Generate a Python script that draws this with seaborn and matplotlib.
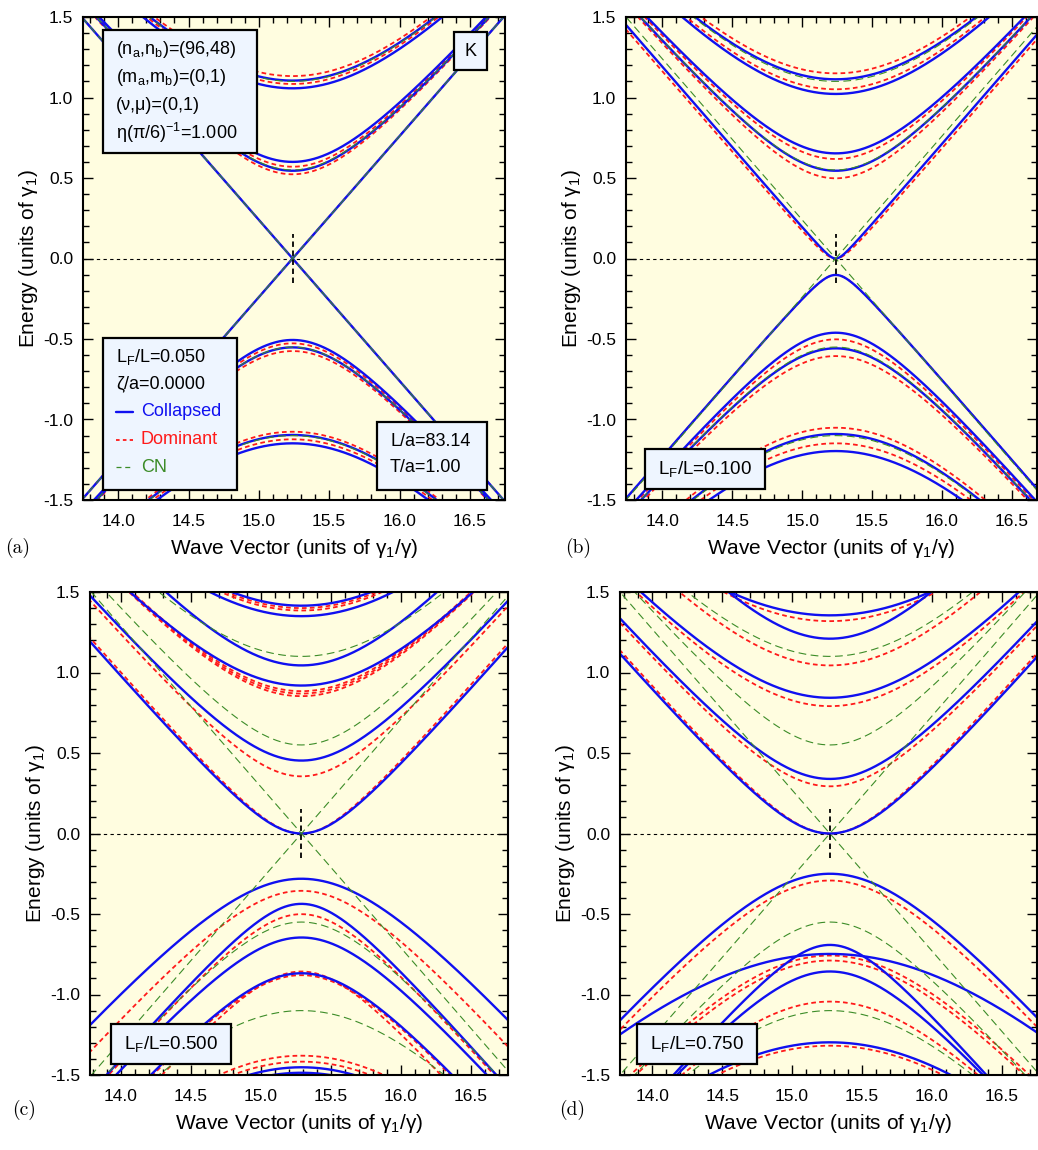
import numpy as np
import pandas as pd
import matplotlib
matplotlib.use("Agg")
import matplotlib.pyplot as plt
import seaborn as sns
from matplotlib.ticker import MultipleLocator, FormatStrFormatter
from matplotlib.patches import Rectangle
from matplotlib.lines import Line2D

sns.set_theme(style="ticks")
plt.rcParams["font.family"] = ["Liberation Sans", "DejaVu Sans"]
plt.rcParams["mathtext.fontset"] = "custom"
plt.rcParams["mathtext.rm"] = "Liberation Sans"
plt.rcParams["mathtext.it"] = "Liberation Sans:italic"
plt.rcParams["axes.unicode_minus"] = False
for key in ["text.color", "axes.labelcolor", "xtick.color", "ytick.color",
            "axes.edgecolor"]:
    plt.rcParams[key] = "black"

# ---------------------------------------------------------------------------
# Band structure near the K valley.  Each band is described by its energy at
# the valley centre (units of gamma_1) and a hyperbolic curvature scale; a
# negative sign (including -0.0) marks a valence band.
# ---------------------------------------------------------------------------
K0 = [15.24, 15.24, 15.29, 15.27]
LF_RATIO = ["0.050", "0.100", "0.500", "0.750"]
PANEL_TAGS = ["(a)", "(b)", "(c)", "(d)"]

# (a) L_F/L = 0.050
BLUE_A_EDGE = [0.0, 0.545, 0.600, 1.057, 1.105, -0.0, -0.506, -0.552, -1.096, -1.148]
BLUE_A_MASS = [0.0, 0.545, 0.600, 1.057, 1.105, 0.0, 0.506, 0.552, 1.096, 1.148]
RED_A_EDGE = [0.0, 0.523, 0.570, 1.084, 1.133, -0.0, -0.527, -0.575, -1.076, -1.123]
RED_A_MASS = [0.0, 0.523, 0.570, 1.084, 1.133, 0.0, 0.527, 0.575, 1.076, 1.123]

# (b) L_F/L = 0.100
BLUE_B_EDGE = [0.0, 0.545, 0.653, 1.022, 1.113, -0.102, -0.461, -0.558, -1.090, -1.196]
BLUE_B_MASS = [0.05, 0.545, 0.653, 1.022, 1.113, 0.116, 0.461, 0.558, 1.090, 1.196]
RED_B_EDGE = [0.0, 0.498, 0.618, 1.051, 1.150, -0.102, -0.502, -0.606, -1.051, -1.148]
RED_B_MASS = [0.08, 0.498, 0.618, 1.051, 1.150, 0.116, 0.502, 0.606, 1.051, 1.148]

# (c) L_F/L = 0.500
BLUE_C_EDGE = [0.0, 0.453, 0.919, 1.044, 1.350, 1.415,
               -0.281, -0.437, -0.646, -0.868, -1.452, -1.486]
BLUE_C_MASS = [0.36, 0.60, 1.00, 0.80, 1.35, 1.415,
               0.80, 0.38, 0.60, 0.60, 1.45, 1.49]
RED_C_EDGE = [0.0, 0.355, 0.853, 0.869, 0.884, 1.385, 1.400,
              -0.356, -0.501, -0.857, -0.880, -1.380, -1.417]
RED_C_MASS = [0.33, 0.50, 0.85, 0.87, 0.88, 1.385, 1.40,
              0.64, 0.45, 0.45, 0.60, 1.38, 1.417]

# (d) L_F/L = 0.750
BLUE_D_EDGE = [0.0, 0.339, 0.843, 1.210, 1.355,
               -0.250, -0.692, -0.748, -0.857, -1.297]
BLUE_D_MASS = [0.45, 0.63, 1.06, 0.76, 1.69,
               0.78, 0.37, 2.00, 0.61, 1.74]
RED_D_EDGE = [0.0, 0.293, 0.791, 1.044, 1.319,
              -0.292, -0.758, -0.789, -1.044, -1.318]
RED_D_MASS = [0.42, 0.60, 1.00, 1.04, 1.50,
              0.75, 1.00, 1.00, 1.00, 1.70]

# CN reference bands (same in every panel)
GREEN_EDGE = [0.0, 0.55, 1.10, -0.0, -0.55, -1.10]
GREEN_MASS = [0.0, 0.55, 1.10, 0.0, 0.55, 1.10]

BLUE_SETS = [(BLUE_A_EDGE, BLUE_A_MASS), (BLUE_B_EDGE, BLUE_B_MASS),
             (BLUE_C_EDGE, BLUE_C_MASS), (BLUE_D_EDGE, BLUE_D_MASS)]
RED_SETS = [(RED_A_EDGE, RED_A_MASS), (RED_B_EDGE, RED_B_MASS),
            (RED_C_EDGE, RED_C_MASS), (RED_D_EDGE, RED_D_MASS)]

# ---------------------------------------------------------------------------
W, H = 1038, 1150
fig = plt.figure(figsize=(W / 100, H / 100), dpi=100)
fig.patch.set_facecolor("white")

# axes frames in pixels (left, top, right, bottom) and their k ranges
FRAMES = [(83, 17, 505, 500), (626, 17, 1037, 500),
          (90, 592, 508, 1075), (620, 592, 1037, 1075)]
XLIMS = [(13.75, 16.75), (13.74, 16.68), (13.78, 16.765), (13.77, 16.75)]
TAG_DROP = [48, 48, 35, 35]

BG = "#FFFDE0"
BOXC = "#EEF5FF"
BLUE = "#1010F0"
RED = "#FF1A1A"
GREEN = "#3C8C28"


def fx(x):
    return x / W


def fy(y):
    return 1 - y / H


def band_frame(k, k0, edges, masses):
    rows = []
    for i, (e0, m) in enumerate(zip(edges, masses)):
        s = np.copysign(1.0, e0)
        e = e0 + s * (np.sqrt(m ** 2 + (k - k0) ** 2) - m)
        rows.append(pd.DataFrame({"k": k, "E": e, "band": i}))
    return pd.concat(rows, ignore_index=True)


def fig_box(l, t, r, b, lw=1.6):
    fig.patches.append(Rectangle((fx(l), fy(b)), fx(r) - fx(l), fy(t) - fy(b),
                                 transform=fig.transFigure, facecolor=BOXC,
                                 edgecolor="black", linewidth=lw, zorder=10))


def fig_text(x, y, s, **kw):
    kw.setdefault("fontsize", 13)
    fig.text(fx(x), fy(y), s, ha=kw.pop("ha", "left"), va=kw.pop("va", "center"),
             zorder=11, **kw)


for p in range(4):
    l, t, r, b = FRAMES[p]
    ax = fig.add_axes([fx(l), fy(b), fx(r) - fx(l), fy(t) - fy(b)])
    ax.set_facecolor(BG)
    k = np.linspace(13.5, 17.0, 700)
    k0 = K0[p]

    blue = band_frame(k, k0, *BLUE_SETS[p])
    red = band_frame(k, k0, *RED_SETS[p])
    green = band_frame(k, k0, GREEN_EDGE, GREEN_MASS)

    sns.lineplot(data=red, x="k", y="E", units="band", estimator=None, sort=False,
                 color=RED, linewidth=1.3, linestyle=(0, (2.6, 1.8)), ax=ax,
                 legend=False)
    sns.lineplot(data=blue, x="k", y="E", units="band", estimator=None, sort=False,
                 color=BLUE, linewidth=1.7, ax=ax, legend=False)
    sns.lineplot(data=green, x="k", y="E", units="band", estimator=None, sort=False,
                 color=GREEN, linewidth=0.8, linestyle=(0, (7, 4)), ax=ax,
                 legend=False)

    ax.axhline(0.0, color="black", linewidth=0.8, linestyle=(0, (3, 3)), zorder=1)
    ax.plot([k0, k0], [-0.15, 0.15], color="black", linewidth=1.3,
            linestyle=(0, (3, 2)), zorder=5)

    ax.set_xlim(*XLIMS[p])
    ax.set_ylim(-1.5, 1.5)
    ax.xaxis.set_major_locator(MultipleLocator(0.5))
    ax.xaxis.set_minor_locator(MultipleLocator(0.1))
    ax.yaxis.set_major_locator(MultipleLocator(0.5))
    ax.yaxis.set_minor_locator(MultipleLocator(0.1))
    ax.xaxis.set_major_formatter(FormatStrFormatter("%.1f"))
    ax.yaxis.set_major_formatter(FormatStrFormatter("%.1f"))
    ax.tick_params(which="both", direction="in", top=True, right=True,
                   labelsize=12.5, width=1.0, colors="black")
    ax.tick_params(which="major", length=7)
    ax.tick_params(which="minor", length=4)
    ax.tick_params(axis="x", which="major", pad=10)
    ax.tick_params(axis="y", which="major", pad=7)
    for sp in ax.spines.values():
        sp.set_linewidth(1.5)
        sp.set_color("black")
    ax.set_xlabel("Wave Vector (units of γ$_\\mathregular{1}$/γ)", fontsize=15,
                  labelpad=6)
    ax.set_ylabel("Energy (units of γ$_\\mathregular{1}$)", fontsize=15, labelpad=2)

    # panel tag below the axis label
    fig.text(fx(l - 78 if p % 2 == 0 else l - 61), fy(b + TAG_DROP[p]),
             PANEL_TAGS[p], fontfamily="cmr10", fontsize=14, ha="left",
             va="center")

    # L_F/L box for panels b-d
    if p > 0:
        bl = l + (19 if p == 1 else 21 if p == 2 else 17)
        fig_box(bl, b - 51, bl + 120, b - 11)
        fig_text(bl + 60, b - 31, "L$_\\mathregular{F}$/L=" + LF_RATIO[p],
                 ha="center", fontsize=13.5)

# parameter boxes in panel (a)
fig_box(103, 30, 257, 153)
for y, s in zip([50, 78, 106, 133],
                ["(n$_\\mathregular{a}$,n$_\\mathregular{b}$)=(96,48)",
                 "(m$_\\mathregular{a}$,m$_\\mathregular{b}$)=(0,1)",
                 "(ν,μ)=(0,1)",
                 "η(π/6)$^\\mathregular{-1}$=1.000"]):
    fig_text(116, y, s)

fig_box(454, 32, 487, 70)
fig_text(470.5, 51, "K", ha="center")

fig_box(103, 338, 237, 490)
fig_text(116, 357, "L$_\\mathregular{F}$/L=" + LF_RATIO[0])
fig_text(116, 384, "ζ/a=0.0000")
for y, s, c, ls, lw in [(412, "Collapsed", BLUE, "-", 1.7),
                        (440, "Dominant", RED, (0, (2.0, 1.8)), 1.3),
                        (467, "CN", GREEN, (0, (4, 3)), 0.9)]:
    fig.lines.append(Line2D([fx(116), fx(133)], [fy(y), fy(y)], color=c,
                            linestyle=ls, linewidth=lw,
                            transform=fig.transFigure, zorder=11))
    fig_text(141, y, s, color=c)

fig_box(377, 422, 487, 490)
fig_text(390, 442, "L/a=83.14")
fig_text(390, 468, "T/a=1.00")

fig.savefig("out.png", dpi=100, facecolor="white")
